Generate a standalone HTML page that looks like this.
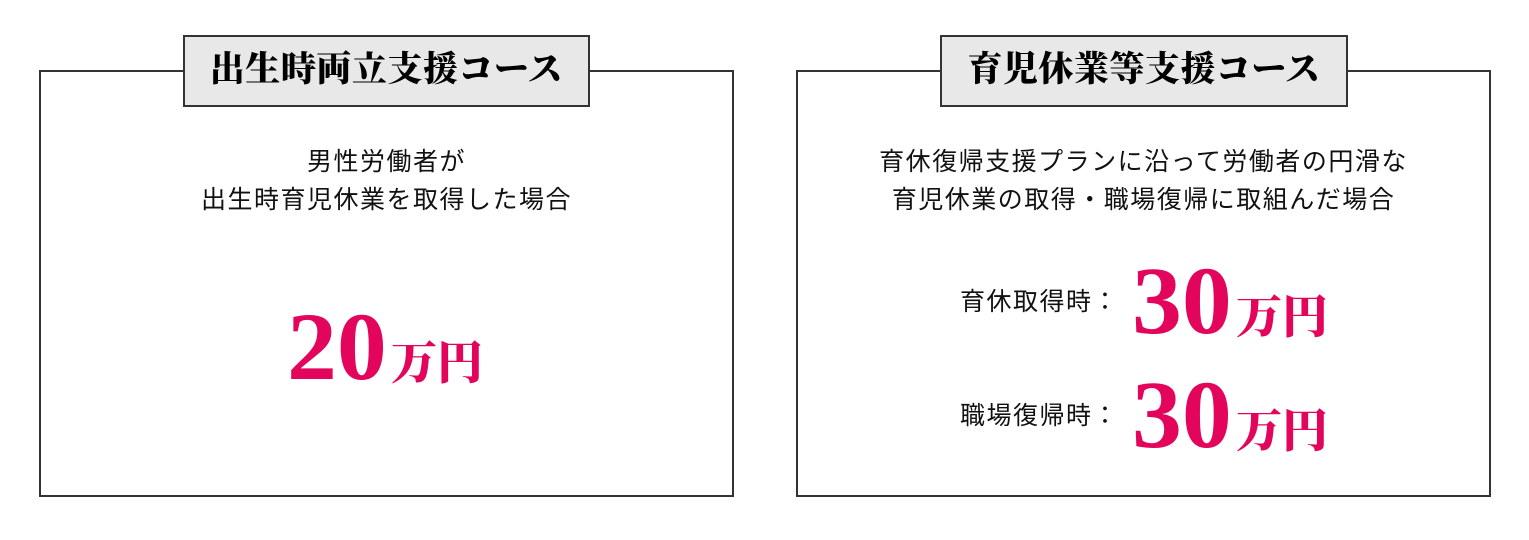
<!DOCTYPE html>
<html><head><meta charset="utf-8"><style>
body{margin:0;width:1529px;height:540px;background:#fff;position:relative;overflow:hidden;font-family:"Liberation Sans","Noto Sans CJK JP",sans-serif;color:#111}
.box{position:absolute;border:2px solid #333;box-sizing:border-box;background:#fff}
.title{position:absolute;background:#e8e8e8;border:2px solid #333;box-sizing:border-box;font-family:"Liberation Serif","Noto Serif CJK JP",serif;font-weight:900;font-size:35px;text-align:center;line-height:66px;letter-spacing:0.5px;color:#000}
.t{position:absolute;font-size:25px;letter-spacing:1.5px;text-align:center;line-height:38px;white-space:nowrap}
.num{position:absolute;color:#e2055b;font-family:"Liberation Serif","Noto Serif CJK JP",serif;font-weight:bold;white-space:nowrap}
.num .big{font-size:96px;letter-spacing:0px;display:inline-block;transform:scaleX(1.04);transform-origin:left}
.num .sm{font-size:46px;font-family:"Noto Serif CJK JP",serif;font-weight:900;margin-left:8px}
</style></head><body>
<div class="box" style="left:39px;top:70px;width:695px;height:427px"></div>
<div class="title" style="left:183px;top:35px;width:407px;height:72px">出生時両立支援コース</div>
<div class="t" style="left:40px;width:693px;top:143px">男性労働者が<br>出生時育児休業を取得した場合</div>
<div class="num" style="left:287px;top:292px;line-height:110px"><span class="big">20</span><span class="sm">万円</span></div>

<div class="box" style="left:796px;top:70px;width:695px;height:427px"></div>
<div class="title" style="left:940px;top:35px;width:408px;height:72px">育児休業等支援コース</div>
<div class="t" style="left:797px;width:693px;top:143px">育休復帰支援プランに沿って労働者の円滑な<br>育児休業の取得・職場復帰に取組んだ場合</div>
<div class="t" style="left:960px;top:283px;text-align:left">育休取得時：</div>
<div class="t" style="left:960px;top:397px;text-align:left">職場復帰時：</div>
<div class="num" style="left:1132px;top:246px;line-height:110px"><span class="big">30</span><span class="sm">万円</span></div>
<div class="num" style="left:1132px;top:360px;line-height:110px"><span class="big">30</span><span class="sm">万円</span></div>
</body></html>
